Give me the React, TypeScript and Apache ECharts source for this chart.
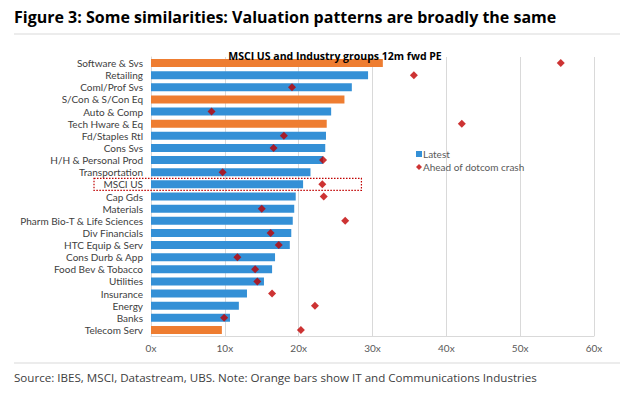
import React, { useEffect, useRef } from "react";
import * as echarts from "echarts";

const categories = [
  "Software & Svs", "Retailing", "Coml/Prof Svs", "S/Con & S/Con Eq", "Auto & Comp",
  "Tech Hware & Eq", "Fd/Staples Rtl", "Cons Svs", "H/H & Personal Prod", "Transportation",
  "MSCI US", "Cap Gds", "Materials", "Pharm Bio-T & Life Sciences", "Div Financials",
  "HTC Equip & Serv", "Cons Durb & App", "Food Bev & Tobacco", "Utilities", "Insurance",
  "Energy", "Banks", "Telecom Serv",
];
const latest = [31.4, 29.4, 27.2, 26.2, 24.4, 23.8, 23.7, 23.6, 23.3, 21.6, 20.6, 19.6, 19.4, 19.2, 19.0, 18.8, 16.8, 16.4, 15.3, 13.0, 11.9, 10.7, 9.6];
const dotcom: (number | null)[] = [55.5, 35.6, 19.1, null, 8.2, 42.1, 18.0, 16.6, 23.3, 9.7, 23.2, 23.4, 15.0, 26.3, 16.2, 17.3, 11.7, 14.1, 14.4, 16.4, 22.2, 9.9, 20.3];
const itCommGroups = ["Software & Svs", "S/Con & S/Con Eq", "Tech Hware & Eq", "Telecom Serv"];
const xTicks = [0, 10, 20, 30, 40, 50, 60];

const BLUE = "#3490d6";
const ORANGE = "#ee7d31";
const RED = "#c00000";
const FONT = "'Open Sans', sans-serif";
const NARROW = "Lato, 'Open Sans', sans-serif";

export default function App() {
  const ref = useRef<HTMLDivElement>(null);
  useEffect(() => {
    if (!ref.current) return;
    const chart = echarts.init(ref.current, null, { renderer: "svg" });
    const option: any = {
      animation: false,
      backgroundColor: "#ffffff",
      title: {
        text: "MSCI US and Industry groups 12m fwd PE",
        left: 330,
        textAlign: "center",
        top: 45,
        textStyle: { fontFamily: FONT, fontSize: 10.5, fontWeight: "bold", color: "#000" },
      },
      legend: {
        orient: "vertical",
        left: 411,
        top: 144,
        itemWidth: 6,
        itemHeight: 6,
        itemGap: 3,
        textStyle: { fontFamily: NARROW, fontSize: 10, color: "#595959", padding: [0, 0, 0, -4] },
        data: [
          { name: "Latest", icon: "rect", itemStyle: { color: BLUE } },
          { name: "Ahead of dotcom crash", icon: "diamond", itemStyle: { color: RED } },
        ],
      },
      grid: { left: 151, width: 443, top: 57, height: 279 },
      xAxis: {
        type: "value",
        min: xTicks[0],
        max: xTicks[xTicks.length - 1],
        interval: 10,
        axisLine: { show: true, lineStyle: { color: "#d9d9d9" } },
        axisTick: { show: false },
        splitLine: { show: true, lineStyle: { color: "#d9d9d9", width: 1 } },
        axisLabel: {
          formatter: (v: number) => `${v}x`,
          fontFamily: NARROW,
          fontSize: 10,
          color: "#595959",
          margin: 7,
        },
      },
      yAxis: {
        type: "category",
        inverse: true,
        data: categories,
        axisLine: { show: true, lineStyle: { color: "#d9d9d9" } },
        axisTick: { show: false },
        axisLabel: {
          interval: 0,
          fontFamily: NARROW,
          fontSize: 10,
          lineHeight: 12,
          color: "#404040",
          margin: 8,
        },
      },
      series: [
        {
          name: "Latest",
          type: "bar",
          barWidth: 8,
          data: latest.map((v, i) => ({
            value: v,
            itemStyle: { color: itCommGroups.includes(categories[i]) ? ORANGE : BLUE },
          })),
        },
        {
          name: "Ahead of dotcom crash",
          type: "scatter",
          symbol: "diamond",
          symbolSize: 8,
          itemStyle: { color: RED },
          data: dotcom,
          z: 5,
        },
      ],
      graphic: [
        {
          type: "text",
          left: 14,
          top: 9,
          style: {
            text: "Figure 3: Some similarities: Valuation patterns are broadly the same",
            fontFamily: FONT,
            fontSize: 16,
            fontWeight: "bold",
            fill: "#000",
          },
        },
        { type: "line", shape: { x1: 14, y1: 34, x2: 620, y2: 34 }, style: { stroke: "#d9d9d9", lineWidth: 1 } },
        { type: "line", shape: { x1: 14, y1: 363, x2: 620, y2: 363 }, style: { stroke: "#d9d9d9", lineWidth: 1 } },
        {
          type: "text",
          left: 14,
          top: 371,
          style: {
            text: "Source: IBES, MSCI, Datastream, UBS. Note: Orange bars show IT and Communications Industries",
            fontFamily: FONT,
            fontSize: 11.6,
            fill: "#404040",
          },
        },
      ],
    };
    chart.setOption(option);
    const cy = chart.convertToPixel({ yAxisIndex: 0 }, "MSCI US") as number;
    const x2 = chart.convertToPixel({ xAxisIndex: 0 }, 28.5) as number;
    chart.setOption({
      graphic: [
        ...option.graphic,
        {
          type: "rect",
          shape: { x: 94, y: cy - 6, width: x2 - 94, height: 12 },
          style: { fill: "none", stroke: RED, lineWidth: 1.2, lineDash: [1.5, 1.5] },
          z: 10,
        },
      ],
    });
    return () => chart.dispose();
  }, []);
  return (
    <div
      ref={ref}
      style={{ position: "fixed", left: 0, top: 0, width: 624, height: 397 }}
    />
  );
}
